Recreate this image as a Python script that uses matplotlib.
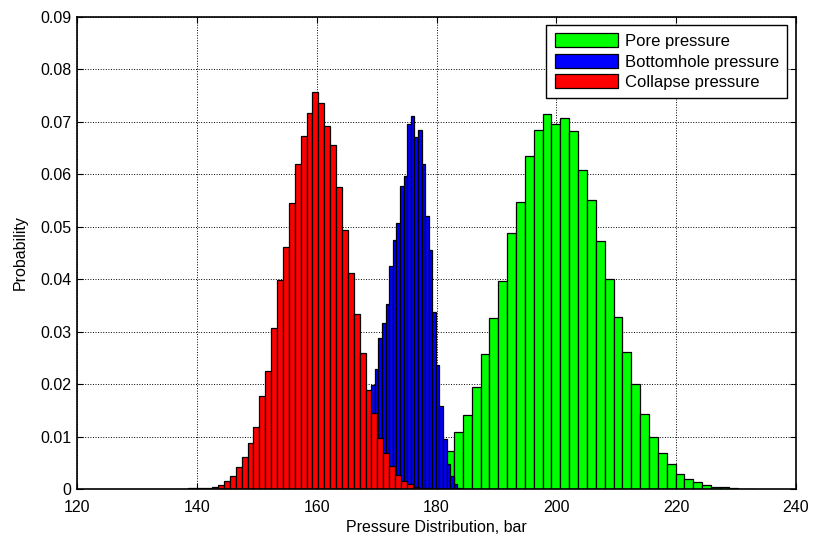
import numpy as np
import matplotlib.pyplot as plt

plt.rcParams['font.family'] = ['Liberation Sans', 'DejaVu Sans']

# histogram bin probabilities, left to right
collapse_start, collapse_width = 137.13, 0.985
collapse_prob = [0.0001, 0.0001, 0.0002, 0.0002, 0.0002, 0.0003,
                 0.0005, 0.0008, 0.0015, 0.0025, 0.0042, 0.0062, 0.0089, 0.0119,
                 0.0178, 0.0226, 0.0307, 0.0399, 0.0461, 0.0545, 0.0619, 0.0673,
                 0.0716, 0.0756, 0.0736, 0.0691, 0.0656, 0.0575, 0.0494, 0.0412,
                 0.0333, 0.0259, 0.0190, 0.0145, 0.0097, 0.0069, 0.0045, 0.0027,
                 0.0015, 0.0010, 0.0005, 0.0003, 0.0002, 0.0001, 0.0001]

bottomhole_start, bottomhole_width = 164.0, 0.6
bottomhole_prob = [0.0005, 0.0010, 0.0020, 0.0035, 0.0050, 0.0075, 0.0100, 0.0130,
                   0.0160, 0.0199, 0.0229, 0.0288, 0.0316, 0.0352, 0.0425, 0.0475,
                   0.0508, 0.0578, 0.0597, 0.0696, 0.0711, 0.0670, 0.0684, 0.0620,
                   0.0521, 0.0456, 0.0337, 0.0237, 0.0159, 0.0096, 0.0048, 0.0025,
                   0.0010, 0.0003]

pore_start, pore_width = 173.31, 1.479
pore_prob = [0.0002, 0.0005, 0.0010, 0.0018, 0.0030, 0.0048,
             0.0073, 0.0109, 0.0142, 0.0194, 0.0257, 0.0326, 0.0397, 0.0488,
             0.0547, 0.0634, 0.0684, 0.0714, 0.0695, 0.0708, 0.0682, 0.0608,
             0.0550, 0.0472, 0.0401, 0.0328, 0.0261, 0.0200, 0.0144, 0.0100,
             0.0069, 0.0048, 0.0030, 0.0019, 0.0013, 0.0008, 0.0005, 0.0004,
             0.0002, 0.0001, 0.0001]

series = [
    ('Pore pressure', pore_start, pore_width, pore_prob, '#00ff00'),
    ('Bottomhole pressure', bottomhole_start, bottomhole_width, bottomhole_prob, '#0000ff'),
    ('Collapse pressure', collapse_start, collapse_width, collapse_prob, '#ff0000'),
]

x_ticks = [120, 140, 160, 180, 200, 220, 240]
y_ticks = [0, 0.01, 0.02, 0.03, 0.04, 0.05, 0.06, 0.07, 0.08, 0.09]
y_tick_labels = ['0', '0.01', '0.02', '0.03', '0.04', '0.05', '0.06', '0.07', '0.08', '0.09']

fig = plt.figure(figsize=(8.16, 5.4), dpi=100)
ax = fig.add_axes([77 / 816, 1 - 489.3 / 540, (796 - 77) / 816, (489.3 - 16.7) / 540])

for label, start, width, prob, color in series:
    centers = start + width * np.arange(len(prob))
    ax.bar(centers, prob, width=width, color=color, edgecolor='black',
           linewidth=0.9, label=label)

ax.set_xlim(120, 240)
ax.set_ylim(0, 0.09)
ax.set_xticks(x_ticks)
ax.set_yticks(y_ticks)
ax.set_yticklabels(y_tick_labels)
ax.tick_params(direction='in', top=True, right=True, length=4, width=0.8,
               labelsize=11.5)
ax.tick_params(axis='x', pad=8)
ax.tick_params(axis='y', pad=4)
ax.set_axisbelow(True)
ax.grid(True, color='black', linestyle=':', linewidth=0.7)
for spine in ax.spines.values():
    spine.set_linewidth(1.2)

ax.set_xlabel('Pressure Distribution, bar', fontsize=11.5, labelpad=3)
ax.set_ylabel('Probability', fontsize=11.5, labelpad=9)

leg = ax.legend(loc='upper right', bbox_to_anchor=(787 / 816, 1 - 25 / 540),
                bbox_transform=fig.transFigure, borderaxespad=0, fontsize=12,
                handlelength=3.8, handleheight=0.92, handletextpad=0.4,
                labelspacing=0.28, borderpad=0.5, fancybox=False, framealpha=1)
leg.get_frame().set_edgecolor('black')
leg.get_frame().set_linewidth(1.0)

fig.savefig('out.png', dpi=100)
